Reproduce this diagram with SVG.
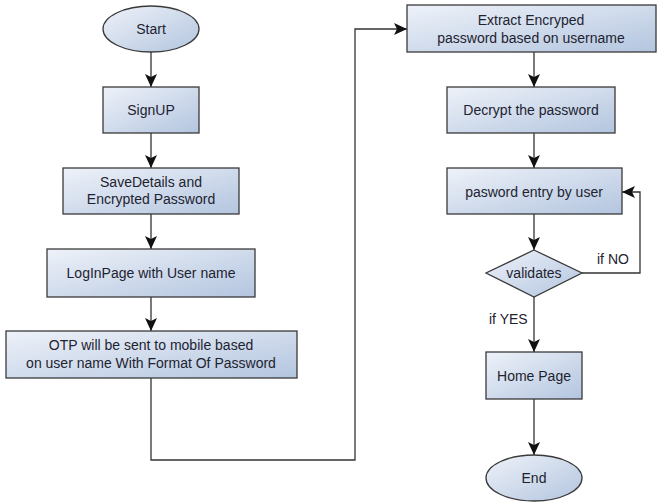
<svg xmlns="http://www.w3.org/2000/svg" width="657" height="502" viewBox="0 0 657 502">
<style>
.n{stroke:#3a3a3a;stroke-width:1.3;fill:url(#g)}
.t{font-family:"Liberation Sans",Arial,sans-serif;font-size:14px;fill:#1e2330;text-anchor:middle}
.c{fill:none;stroke:#333;stroke-width:1.3;marker-end:url(#a)}
.c2{fill:none;stroke:#333;stroke-width:1.3}
.l{font-family:"Liberation Sans",Arial,sans-serif;font-size:14px;fill:#1e2330}
</style>
<defs>
<linearGradient id="g" x1="0" y1="0" x2="1" y2="1">
<stop offset="0" stop-color="#eef2f9"/>
<stop offset="1" stop-color="#b3c5df"/>
</linearGradient>
<marker id="a" markerUnits="userSpaceOnUse" markerWidth="14" markerHeight="12" viewBox="0 0 14 12" refX="13" refY="6" orient="auto">
<path d="M0,0 L13,6 L0,12 L3,6 z" fill="#111"/>
</marker>
</defs>
<rect width="657" height="502" fill="#fff"/>
<g id="connectors">
<path class="c" d="M151,52 V87"/>
<path class="c" d="M151,133 V168"/>
<path class="c" d="M151,214 V249"/>
<path class="c" d="M151,297 V331"/>
<path class="c" d="M151,378 V460 H355 V29 H407"/>
<path class="c" d="M534,52 V87"/>
<path class="c" d="M534,133 V168"/>
<path class="c" d="M534,214 V250"/>
<path class="c" d="M582,273 H640 V192 H622"/>
<path class="c" d="M534,297 V352"/>
<path class="c" d="M534,399 V455"/>
<text class="l" x="597" y="264">if NO</text>
<text class="l" x="489" y="324">if YES</text>
</g>
<g id="start"><ellipse class="n" cx="151" cy="29" rx="48" ry="23"/><text class="t" x="151" y="34">Start</text></g>
<g id="signup"><rect class="n" x="103" y="87" width="96" height="46"/><text class="t" x="151" y="115">SignUP</text></g>
<g id="savedetails"><rect class="n" x="63" y="168" width="176" height="46"/><text class="t" x="151" y="187">SaveDetails and</text><text class="t" x="151" y="204">Encrypted Password</text></g>
<g id="loginpage"><rect class="n" x="47" y="249" width="208" height="48"/><text class="t" x="151" y="278">LogInPage with User name</text></g>
<g id="otp"><rect class="n" x="6" y="331" width="291" height="47"/><text class="t" x="151" y="350">OTP will be sent to mobile based</text><text class="t" x="151" y="368">on user name With Format Of Password</text></g>
<g id="extract"><rect class="n" x="407" y="5" width="249" height="47"/><text class="t" x="531" y="25">Extract Encryped</text><text class="t" x="531" y="43">password based on username</text></g>
<g id="decrypt"><rect class="n" x="447" y="87" width="168" height="46"/><text class="t" x="531" y="115">Decrypt the password</text></g>
<g id="pasword"><rect class="n" x="447" y="168" width="175" height="46"/><text class="t" x="534" y="197">pasword entry by user</text></g>
<g id="validates"><path class="n" d="M534,250 L582,273 L534,297 L486,273 Z"/><text class="t" x="534" y="278">validates</text></g>
<g id="homepage"><rect class="n" x="486" y="352" width="96" height="47"/><text class="t" x="534" y="381">Home Page</text></g>
<g id="end"><ellipse class="n" cx="534" cy="478" rx="48" ry="23"/><text class="t" x="534" y="483">End</text></g>
</svg>
